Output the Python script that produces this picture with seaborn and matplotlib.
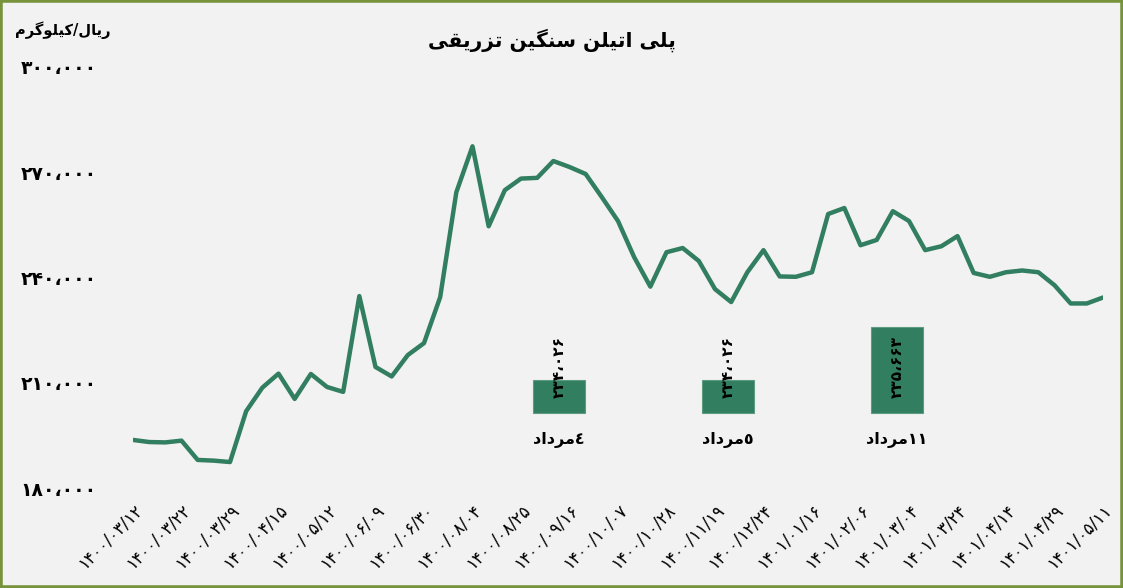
import re
import numpy as np
import pandas as pd
import matplotlib
matplotlib.use("Agg")
import matplotlib.pyplot as plt
import matplotlib.ticker as mticker
from matplotlib.patches import Rectangle
import seaborn as sns

# --- data ---
title = "پلی اتیلن سنگین تزریقی"
unit_label = "ریال/کیلوگرم"

prices = [
    193700, 193100, 193000, 193500, 188000, 187800, 187400, 201900, 208600, 212600,
    205400, 212500, 208800, 207400, 234700, 214500, 211800, 217900, 221300, 234400,
    264300, 277400, 254600, 264900, 268200, 268400, 273200, 271500, 269500, 262900,
    256100, 245800, 237400, 247200, 248400, 244700, 236700, 233000, 241500, 247800,
    240300, 240200, 241500, 258100, 259800, 249200, 250700, 258900, 256100, 247800,
    248900, 251800, 241300, 240200, 241500, 242000, 241500, 237800, 232600, 232600,
    234300,
]
label_step = 3  # one date label every 3 points
tick_dates = [
    "1400/03/12", "1400/03/22", "1400/03/29", "1400/04/15", "1400/05/12",
    "1400/06/09", "1400/06/30", "1400/08/04", "1400/08/25", "1400/09/16",
    "1400/10/07", "1400/10/28", "1400/11/19", "1400/12/24", "1401/01/16",
    "1401/02/06", "1401/03/04", "1401/03/24", "1401/04/14", "1401/04/29",
    "1401/05/11",
]

bar_days = ["٤مرداد", "٥مرداد", "١١مرداد"]
bar_values = [234026, 234026, 235663]

# --- persian text helpers (matplotlib does no arabic shaping) ---
FORMS = {  # isolated, final, initial, medial
    'ا': ('\uFE8D', '\uFE8E', None, None),
    'ب': ('\uFE8F', '\uFE90', '\uFE91', '\uFE92'),
    'پ': ('\uFB56', '\uFB57', '\uFB58', '\uFB59'),
    'ت': ('\uFE95', '\uFE96', '\uFE97', '\uFE98'),
    'د': ('\uFEA9', '\uFEAA', None, None),
    'ر': ('\uFEAD', '\uFEAE', None, None),
    'ز': ('\uFEAF', '\uFEB0', None, None),
    'س': ('\uFEB1', '\uFEB2', '\uFEB3', '\uFEB4'),
    'ق': ('\uFED5', '\uFED6', '\uFED7', '\uFED8'),
    'ک': ('\uFB8E', '\uFB8F', '\uFB90', '\uFB91'),
    'گ': ('\uFB92', '\uFB93', '\uFB94', '\uFB95'),
    'ل': ('\uFEDD', '\uFEDE', '\uFEDF', '\uFEE0'),
    'م': ('\uFEE1', '\uFEE2', '\uFEE3', '\uFEE4'),
    'ن': ('\uFEE5', '\uFEE6', '\uFEE7', '\uFEE8'),
    'و': ('\uFEED', '\uFEEE', None, None),
    'ی': ('\uFBFC', '\uFBFD', '\uFBFE', '\uFBFF'),
}


def shape(text):
    out = []
    for i, ch in enumerate(text):
        if ch not in FORMS:
            out.append(ch)
            continue
        prev = text[i - 1] if i > 0 else ''
        nxt = text[i + 1] if i + 1 < len(text) else ''
        iso, fin, ini, med = FORMS[ch]
        join_prev = prev in FORMS and FORMS[prev][2] is not None
        join_next = nxt in FORMS and ini is not None
        if join_prev and join_next:
            out.append(med)
        elif join_prev:
            out.append(fin)
        elif join_next:
            out.append(ini)
        else:
            out.append(iso)
    return ''.join(out)


def rtl(text):
    # shape, then lay out right to left but keep number runs in order
    runs = re.findall(r'\d+|\D+', shape(text))
    return ''.join(r if r[0].isdigit() else r[::-1] for r in reversed(runs))


FA = str.maketrans("0123456789,", "۰۱۲۳۴۵۶۷۸۹،")


def fa_num(v):
    return f"{v:,.0f}".translate(FA)


# --- plot ---
sns.set_theme(style="white")
plt.rcParams['font.family'] = ['DejaVu Sans']
plt.rcParams['text.color'] = 'black'
plt.rcParams['xtick.color'] = 'black'
plt.rcParams['ytick.color'] = 'black'

bg = "#F2F2F2"
green = "#327E60"

fig = plt.figure(figsize=(11.23, 5.88), dpi=100, facecolor=bg)
ax = fig.add_axes([133 / 1123, 1 - 488 / 588, 970 / 1123, 421 / 588])
ax.set_facecolor(bg)

df = pd.DataFrame({"idx": range(len(prices)), "price": prices})
sns.lineplot(data=df, x="idx", y="price", ax=ax, color=green, linewidth=3.2,
             solid_joinstyle="round", solid_capstyle="round")

ax.set_xlim(0, len(prices) - 1)
ax.set_ylim(180000, 300000)
ax.set_yticks(np.arange(180000, 300001, 30000))
ax.yaxis.set_major_formatter(mticker.FuncFormatter(lambda v, p: fa_num(v)))
ax.set_xticks(range(0, len(prices), label_step))
ax.set_xticklabels([d.translate(FA) for d in tick_dates], rotation=45, ha="right",
                   rotation_mode="anchor", fontsize=12)
ax.tick_params(axis="y", length=0, pad=26, labelsize=13.5)
ax.tick_params(axis="x", length=0, pad=9)
for t in ax.get_yticklabels():
    t.set_fontweight("bold")
for s in ax.spines.values():
    s.set_visible(False)
ax.set_xlabel("")
ax.set_ylabel("")

# secondary axes for the bars
bar_base = 233000
ax2 = fig.add_axes(ax.get_position(), facecolor="none")
bar_df = pd.DataFrame({"day": [rtl(d) for d in bar_days],
                       "height": [v - bar_base for v in bar_values]})
sns.barplot(data=bar_df, x="day", y="height", ax=ax2, color=green, saturation=1,
            width=0.31, bottom=bar_base, edgecolor="#5E9C82", linewidth=0.8)
ax2.set_xlim(-2.52, 3.22)
ax2.set_ylim(230683, 243689)
ax2.axis("off")

for i, (day, val) in enumerate(zip(bar_days, bar_values)):
    ax2.annotate(fa_num(val), (i, bar_base), xytext=(0, 11), textcoords="offset points",
                 rotation=90, ha="center", va="bottom", fontsize=11, fontweight="bold")
    ax2.annotate(rtl(day), (i, bar_base), xytext=(0, -19.5), textcoords="offset points",
                 ha="center", va="center", fontsize=11.5, fontweight="bold")

fig.text(552 / 1123, 1 - 40 / 588, rtl(title), ha="center", va="center",
         fontsize=14.5, fontweight="bold")
fig.text(63 / 1123, 1 - 30 / 588, rtl(unit_label), ha="center", va="center",
         fontsize=10.5, fontweight="bold")

fig.patches.append(Rectangle((0, 0), 1, 1, transform=fig.transFigure, fill=False,
                             edgecolor="#77933C", linewidth=4))

fig.savefig("out.png", dpi=100, facecolor=bg)
